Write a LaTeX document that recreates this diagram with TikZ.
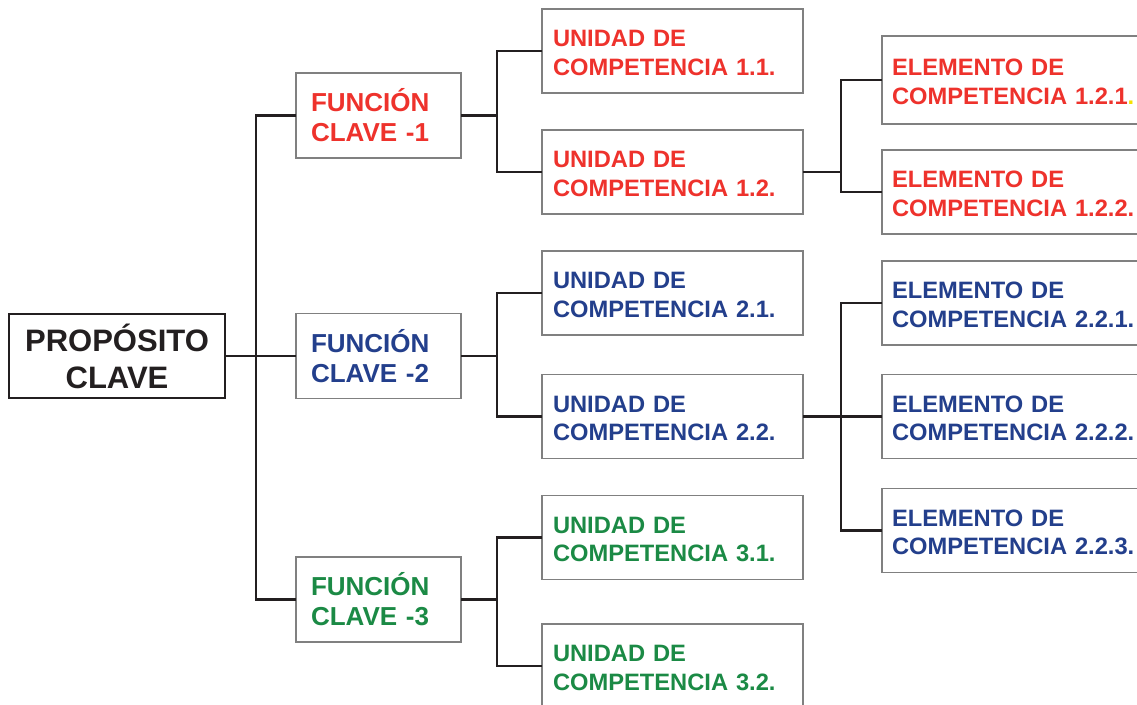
\documentclass[tikz,border=0pt]{standalone}
\usepackage{fontspec}
\setmainfont{Liberation Sans}
\definecolor{linedark}{RGB}{35,31,32}
\definecolor{boxgray}{RGB}{128,128,128}
\definecolor{fred}{RGB}{238,50,44}
\definecolor{fblue}{RGB}{35,63,140}
\definecolor{fgreen}{RGB}{27,138,69}
\definecolor{dotyellow}{RGB}{245,225,0}
\begin{document}
\begin{tikzpicture}[x=1pt,y=-1pt,
  box/.style={draw=boxgray, line width=1.3pt, fill=white, inner ysep=0pt, outer sep=0pt},
  propbox/.style={draw=linedark, line width=2.6pt, fill=white, minimum width=216pt, minimum height=84pt,
    align=center, inner sep=0pt, outer sep=0pt, text=linedark,
    font=\fontsize{31}{37}\selectfont\bfseries},
  funcbox/.style={box, minimum width=165pt, minimum height=85pt, text width=135pt, inner xsep=15pt,
    align=left, font=\fontsize{26}{30}\selectfont\bfseries},
  unidbox/.style={box, minimum width=261pt, minimum height=84pt, text width=239pt, inner xsep=11pt,
    align=left, font=\fontsize{23.7}{28.4}\selectfont\bfseries,
    execute at begin node={\rule{0pt}{20pt}}},
  elembox/.style={box, minimum width=270pt, minimum height=84pt, text width=250pt, inner xsep=10pt,
    align=left, font=\fontsize{23.7}{28.4}\selectfont\bfseries,
    execute at begin node={\rule{0pt}{20pt}}},
  conn/.style={draw=linedark, line width=2.4pt, line join=miter}]
\clip (0,0) rectangle (1137,704);
\fill[white] (0,0) rectangle (1137,704);

% junction coordinates
\coordinate (j0) at (256,356);
\coordinate (j1) at (497,356);
\coordinate (j2) at (841,356);

% nodes
\node[propbox] (prop) at (117,356) {PROPÓSITO\\CLAVE};

\node[funcbox, text=fred]   (f1) at (378.5,115.5) {FUNCIÓN\\CLAVE -1};
\node[funcbox, text=fblue]  (f2) at (378.5,356)   {FUNCIÓN\\CLAVE -2};
\node[funcbox, text=fgreen] (f3) at (378.5,599.5) {FUNCIÓN\\CLAVE -3};

\node[unidbox, text=fred]   (u11) at (672.5,51)    {UNIDAD DE\\COMPETENCIA 1.1.};
\node[unidbox, text=fred]   (u12) at (672.5,172)   {UNIDAD DE\\COMPETENCIA 1.2.};
\node[unidbox, text=fblue]  (u21) at (672.5,293)   {UNIDAD DE\\COMPETENCIA 2.1.};
\node[unidbox, text=fblue]  (u22) at (672.5,416.5) {UNIDAD DE\\COMPETENCIA 2.2.};
\node[unidbox, text=fgreen] (u31) at (672.5,537.5) {UNIDAD DE\\COMPETENCIA 3.1.};
\node[unidbox, text=fgreen] (u32) at (672.5,666)   {UNIDAD DE\\COMPETENCIA 3.2.};

\node[elembox, text=fred, minimum height=88pt] (e121) at (1017,80) {ELEMENTO DE\\COMPETENCIA 1.2.1\textcolor{dotyellow}{.}};
\node[elembox, text=fred]  (e122) at (1017,192)   {ELEMENTO DE\\COMPETENCIA 1.2.2.};
\node[elembox, text=fblue] (e221) at (1017,303)   {ELEMENTO DE\\COMPETENCIA 2.2.1.};
\node[elembox, text=fblue] (e222) at (1017,416.5) {ELEMENTO DE\\COMPETENCIA 2.2.2.};
\node[elembox, text=fblue] (e223) at (1017,530.5) {ELEMENTO DE\\COMPETENCIA 2.2.3.};

% connectors: level 0 -> 1
\draw[conn] (prop.east) -- (f2.west);
\draw[conn] (f1.west) -- (f1.west -| j0) -- (f3.west -| j0) -- (f3.west);

% level 1 -> 2
\draw[conn] (f1.east) -- (f1.east -| j1);
\draw[conn] (u11.west) -- (u11.west -| j1) -- (u12.west -| j1) -- (u12.west);
\draw[conn] (f2.east) -- (f2.east -| j1);
\draw[conn] (u21.west) -- (u21.west -| j1) -- (u22.west -| j1) -- (u22.west);
\draw[conn] (f3.east) -- (f3.east -| j1);
\draw[conn] (u31.west) -- (u31.west -| j1) -- (u32.west -| j1) -- (u32.west);

% level 2 -> 3
\draw[conn] (u12.east) -- (u12.east -| j2);
\draw[conn] (e121.west) -- (e121.west -| j2) -- (e122.west -| j2) -- (e122.west);
\draw[conn] (u22.east) -- (e222.west);
\draw[conn] (e221.west) -- (e221.west -| j2) -- (e223.west -| j2) -- (e223.west);
\end{tikzpicture}
\end{document}
